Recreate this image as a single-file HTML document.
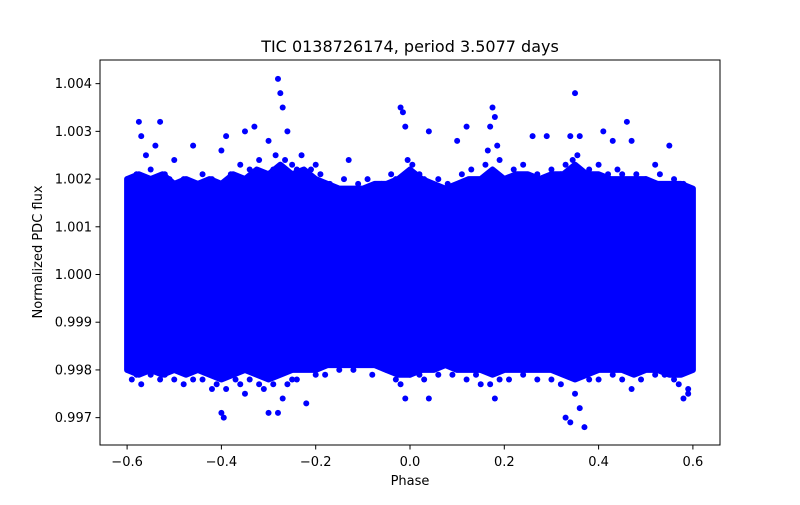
<!DOCTYPE html>
<html><head><meta charset="utf-8"><style>
body{margin:0;background:#fff;}
svg text{font-family:"DejaVu Sans","Liberation Sans",sans-serif;fill:#000;}
</style></head><body>
<svg width="800" height="500" xmlns="http://www.w3.org/2000/svg" id="chart">
<rect width="800" height="500" fill="#fff"/>
<g id="plot"></g>
<rect x="100" y="60" width="620" height="385" fill="none" stroke="#000" stroke-width="1"/>
<g id="ticks"></g>
<text x="410" y="52" font-size="16" text-anchor="middle">TIC 0138726174, period 3.5077 days</text>
<text x="410" y="485" font-size="13" text-anchor="middle">Phase</text>
<text x="42" y="252" font-size="13" text-anchor="middle" transform="rotate(-90 42 252)">Normalized PDC flux</text>
</svg>
<script>
const phaseBins=[-0.6,-0.575,-0.55,-0.525,-0.5,-0.475,-0.45,-0.425,-0.4,-0.375,-0.35,-0.325,-0.3,-0.275,-0.25,-0.225,-0.2,-0.175,-0.15,-0.125,-0.1,-0.075,-0.05,-0.025,0,0.025,0.05,0.075,0.1,0.125,0.15,0.175,0.2,0.225,0.25,0.275,0.3,0.325,0.35,0.375,0.4,0.425,0.45,0.475,0.5,0.525,0.55,0.575,0.6];
const upperFlux=[1.0020,1.0021,1.0020,1.0021,1.0019,1.0020,1.0019,1.0020,1.0019,1.0021,1.0020,1.0022,1.0021,1.0023,1.0021,1.0022,1.0020,1.0019,1.0018,1.0018,1.0018,1.0019,1.0019,1.0020,1.0022,1.0020,1.0019,1.0018,1.0019,1.0020,1.0020,1.0022,1.0020,1.0021,1.0021,1.0020,1.0021,1.0021,1.0023,1.0021,1.0021,1.0020,1.0020,1.0020,1.0020,1.0019,1.0019,1.0019,1.0018];
const lowerFlux=[0.9980,0.9979,0.9980,0.9979,0.9980,0.9979,0.9980,0.9979,0.9978,0.9979,0.9980,0.9979,0.9978,0.9979,0.9980,0.9980,0.9980,0.9981,0.9981,0.9981,0.9981,0.9981,0.9980,0.9979,0.9979,0.9980,0.9980,0.9981,0.9980,0.9980,0.9980,0.9979,0.9980,0.9980,0.9980,0.9980,0.9980,0.9979,0.9978,0.9979,0.9980,0.9980,0.9980,0.9979,0.9980,0.9980,0.9979,0.9979,0.9980];
const outlierPhase=[-0.575,-0.57,-0.56,-0.54,-0.53,-0.5,-0.46,-0.4,-0.39,-0.35,-0.33,-0.3,-0.28,-0.275,-0.27,-0.26,-0.23,-0.13,-0.02,-0.015,-0.01,0.04,0.1,0.12,0.17,0.175,0.18,0.26,0.29,0.34,0.35,0.36,0.41,0.43,0.46,0.47,0.52,0.55,
 -0.57,-0.5,-0.4,-0.395,-0.35,-0.3,-0.28,-0.27,-0.22,-0.01,0.04,0.15,0.18,0.33,0.34,0.36,0.37,0.47,0.58,0.59,
 -0.59,-0.58,-0.55,-0.52,-0.51,-0.48,-0.44,-0.42,-0.38,-0.36,-0.34,-0.32,-0.31,-0.29,-0.285,-0.265,-0.25,-0.24,-0.21,-0.2,-0.19,-0.17,-0.14,-0.11,-0.09,-0.06,-0.04,-0.03,-0.005,0.005,0.02,0.03,0.06,0.08,0.11,0.13,0.16,0.165,0.185,0.19,0.22,0.24,0.27,0.3,0.32,0.33,0.345,0.355,0.38,0.4,0.42,0.44,0.45,0.48,0.5,0.53,0.56,0.58,
 -0.59,-0.58,-0.55,-0.53,-0.52,-0.48,-0.46,-0.44,-0.42,-0.41,-0.39,-0.37,-0.36,-0.34,-0.32,-0.31,-0.29,-0.26,-0.25,-0.24,-0.2,-0.18,-0.15,-0.12,-0.08,-0.05,-0.03,-0.02,0.0,0.02,0.03,0.06,0.09,0.12,0.14,0.17,0.19,0.21,0.24,0.27,0.3,0.32,0.35,0.38,0.4,0.43,0.45,0.49,0.52,0.54,0.56,0.57,0.59];
const outlierFlux=[1.0032,1.0029,1.0025,1.0027,1.0032,1.0024,1.0027,1.0026,1.0029,1.0030,1.0031,1.0028,1.0041,1.0038,1.0035,1.0030,1.0025,1.0024,1.0035,1.0034,1.0031,1.0030,1.0028,1.0031,1.0031,1.0035,1.0033,1.0029,1.0029,1.0029,1.0038,1.0029,1.0030,1.0028,1.0032,1.0028,1.0023,1.0027,
 0.9977,0.9978,0.9971,0.9970,0.9975,0.9971,0.9971,0.9974,0.9973,0.9974,0.9974,0.9977,0.9974,0.9970,0.9969,0.9972,0.9968,0.9976,0.9974,0.9976,
 1.0020,1.0021,1.0022,1.0021,1.0020,1.0020,1.0021,1.0020,1.0021,1.0023,1.0022,1.0024,1.0021,1.0022,1.0025,1.0024,1.0023,1.0022,1.0022,1.0023,1.0021,1.0019,1.0020,1.0019,1.0020,1.0019,1.0021,1.0020,1.0024,1.0023,1.0021,1.0020,1.0020,1.0019,1.0021,1.0022,1.0023,1.0026,1.0027,1.0024,1.0022,1.0023,1.0021,1.0022,1.0021,1.0023,1.0024,1.0025,1.0022,1.0023,1.0021,1.0022,1.0021,1.0021,1.0020,1.0021,1.0020,1.0019,
 0.9978,0.9979,0.9979,0.9978,0.9979,0.9977,0.9978,0.9978,0.9976,0.9977,0.9976,0.9978,0.9977,0.9978,0.9977,0.9976,0.9977,0.9977,0.9978,0.9978,0.9979,0.9979,0.9980,0.9980,0.9979,0.9980,0.9978,0.9977,0.9979,0.9979,0.9978,0.9979,0.9979,0.9978,0.9979,0.9977,0.9978,0.9978,0.9979,0.9978,0.9978,0.9977,0.9975,0.9978,0.9978,0.9979,0.9978,0.9978,0.9979,0.9979,0.9978,0.9977,0.9975];
const xTicks=[-0.6,-0.4,-0.2,0.0,0.2,0.4,0.6];
const xTickLabels=["\u22120.6","\u22120.4","\u22120.2","0.0","0.2","0.4","0.6"];
const yTicks=[0.997,0.998,0.999,1.000,1.001,1.002,1.003,1.004];
const yTickLabels=["0.997","0.998","0.999","1.000","1.001","1.002","1.003","1.004"];

const NS="http://www.w3.org/2000/svg";
const xs=v=>410+v*471.5;
const ys=v=>274.5-(v-1)*47714;
const plot=document.getElementById('plot');
const ticks=document.getElementById('ticks');
function mk(tag,attrs,parent){const e=document.createElementNS(NS,tag);for(const k in attrs)e.setAttribute(k,attrs[k]);parent.appendChild(e);return e;}

let pts=[];
for(let i=0;i<phaseBins.length;i++)pts.push(xs(phaseBins[i])+","+ys(upperFlux[i]));
for(let i=phaseBins.length-1;i>=0;i--)pts.push(xs(phaseBins[i])+","+ys(lowerFlux[i]));
const band=mk('polygon',{points:pts.join(' '),fill:'#0000ff',stroke:'#0000ff','stroke-width':6,'stroke-linejoin':'round'},plot);



for(let i=0;i<outlierPhase.length;i++){
 const c=mk('circle',{cx:xs(outlierPhase[i]),cy:ys(outlierFlux[i]),r:3,fill:'#0000ff'},plot);
 
 
}
for(let i=0;i<xTicks.length;i++){
 const x=xs(xTicks[i]);
 const l=mk('line',{x1:x,x2:x,y1:445,y2:449.5,stroke:'#000'},ticks);
 
 
 const t=mk('text',{x:x,y:466,'font-size':13,'text-anchor':'middle'},ticks);t.textContent=xTickLabels[i];
 
 
}
for(let i=0;i<yTicks.length;i++){
 const y=ys(yTicks[i]);
 const l=mk('line',{x1:95.5,x2:100,y1:y,y2:y,stroke:'#000'},ticks);
 
 
 const t=mk('text',{x:92,y:y+4.5,'font-size':13,'text-anchor':'end'},ticks);t.textContent=yTickLabels[i];
 
 
}
</script>
</body></html>
